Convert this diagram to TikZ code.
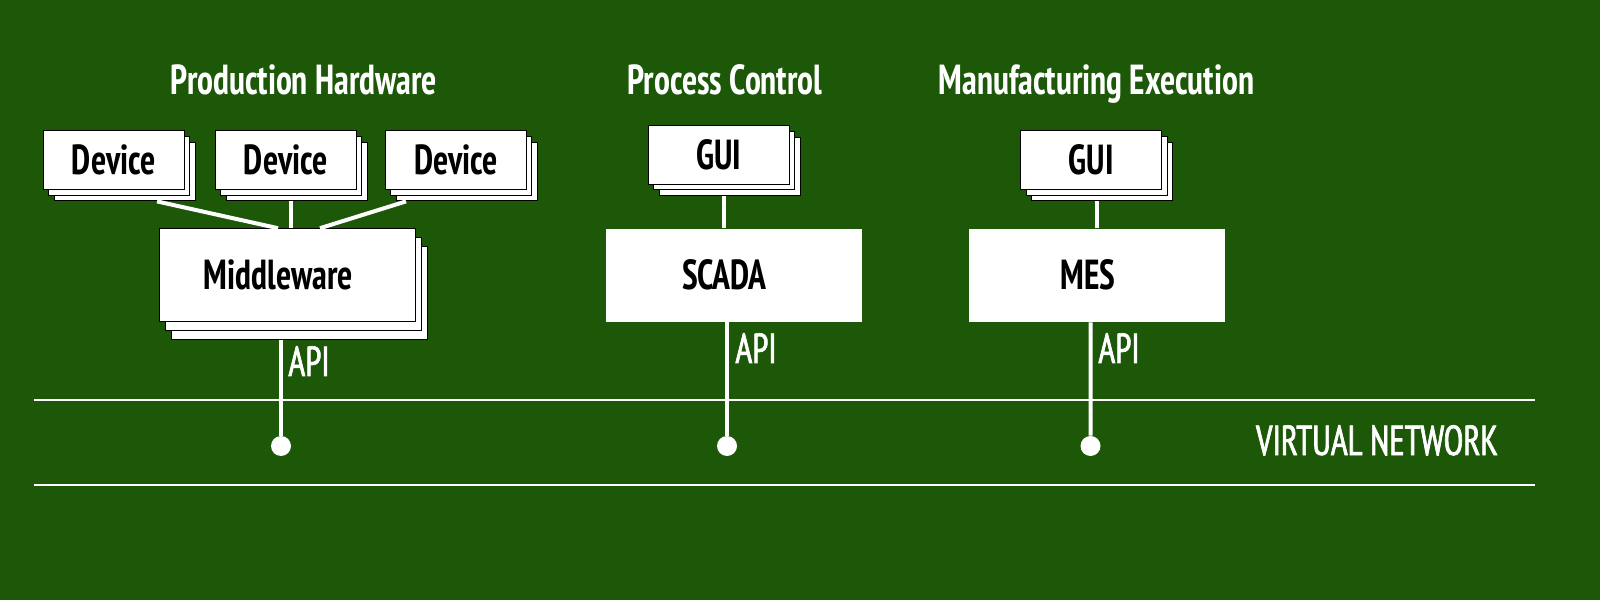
\documentclass[tikz,border=0pt]{standalone}
\usepackage{fontspec}
\setmainfont{PT Sans Narrow}[FakeStretch=0.85]
\newfontfamily\medfont{PT Sans Narrow}[FakeStretch=0.85,FakeBold=1.5]
\usetikzlibrary{shadows}
\definecolor{bggreen}{RGB}{28,88,8}
\begin{document}
\begin{tikzpicture}[x=0.5pt,y=0.5pt,
  lbl/.style={font=\bfseries\fontsize{21}{21}\selectfont,inner sep=0pt},
  title/.style={text=white,font=\bfseries\fontsize{21}{21}\selectfont,inner sep=0pt,anchor=base},
  small/.style={text=white,font=\medfont\fontsize{21}{21}\selectfont,inner sep=0pt},
  stack/.style={lbl,draw=black,line width=0.5pt,fill=white,minimum width=70.5pt,minimum height=29.3pt,
    copy shadow={shadow xshift=5.5pt,shadow yshift=-5.8pt},
    copy shadow={shadow xshift=2.75pt,shadow yshift=-2.9pt}},
  bigbox/.style={fill=white,minimum width=128pt,minimum height=46.6pt,inner sep=0pt,
    label={[lbl,xshift=-4.5pt]center:#1}},
  wire/.style={white,line width=2pt},
  net/.style={white,line width=0.6pt},
  dot/.style={circle,fill=white,inner sep=0pt,minimum size=10pt}]
\fill[bggreen] (0,0) rectangle (1600,600);
\draw[net] (34,200) -- (1535,200);
\draw[net] (34,115) -- (1535,115);
\node[title] (t1) at (304,505) {Production Hardware};
\node[title] (t2) at (725,505) {Process Control};
\node[title] (t3) at (1096.5,505) {Manufacturing Execution};
\node[stack] (dev1) at (113.8,440) {Device};
\node[stack] (dev2) at (285.8,440) {Device};
\node[stack] (dev3) at (455.8,440) {Device};
\node[stack] (gui2) at (718.8,445.2) {GUI};
\node[stack] (gui3) at (1091.2,440) {GUI};
\node[bigbox=Middleware,draw=black,line width=0.5pt,
  copy shadow={shadow xshift=6pt,shadow yshift=-8.8pt},
  copy shadow={shadow xshift=3pt,shadow yshift=-4.4pt}] (mw) at (287.5,324.7) {};
\node[bigbox=SCADA] (scada) at (733.5,324.7) {};
\node[bigbox=MES] (mes) at (1096.7,324.7) {};
\node[dot] (d1) at (281,154) {};
\node[dot] (d2) at (727,154) {};
\node[dot] (d3) at (1090.5,154) {};
\draw[wire] ([xshift=21.6pt,yshift=-5.8pt]dev1.south) -- ([xshift=-4.75pt]mw.north);
\draw[wire] ([xshift=2.75pt,yshift=-5.8pt]dev2.south) -- ([xshift=1.9pt]mw.north);
\draw[wire] ([xshift=-24.9pt,yshift=-5.8pt]dev3.south) -- ([xshift=16.25pt]mw.north);
\draw[wire] ([xshift=2.75pt,yshift=-5.8pt]gui2.south) -- ([xshift=-4.6pt]scada.north);
\draw[wire] ([xshift=2.75pt,yshift=-5.8pt]gui3.south) -- (mes.north);
\draw[wire] ([xshift=-3.25pt,yshift=-8.8pt]mw.south) -- (d1);
\draw[wire] ([xshift=-3.25pt]scada.south) -- (d2);
\draw[wire] ([xshift=-3.1pt]mes.south) -- (d3);
\node[small,anchor=base west] (api1) at (288,224) {API};
\node[small,anchor=base west] (api2) at (735,237) {API};
\node[small,anchor=base west] (api3) at (1098,237) {API};
\node[small,anchor=base] (vnet) at (1377,145) {VIRTUAL NETWORK};
\end{tikzpicture}
\end{document}
